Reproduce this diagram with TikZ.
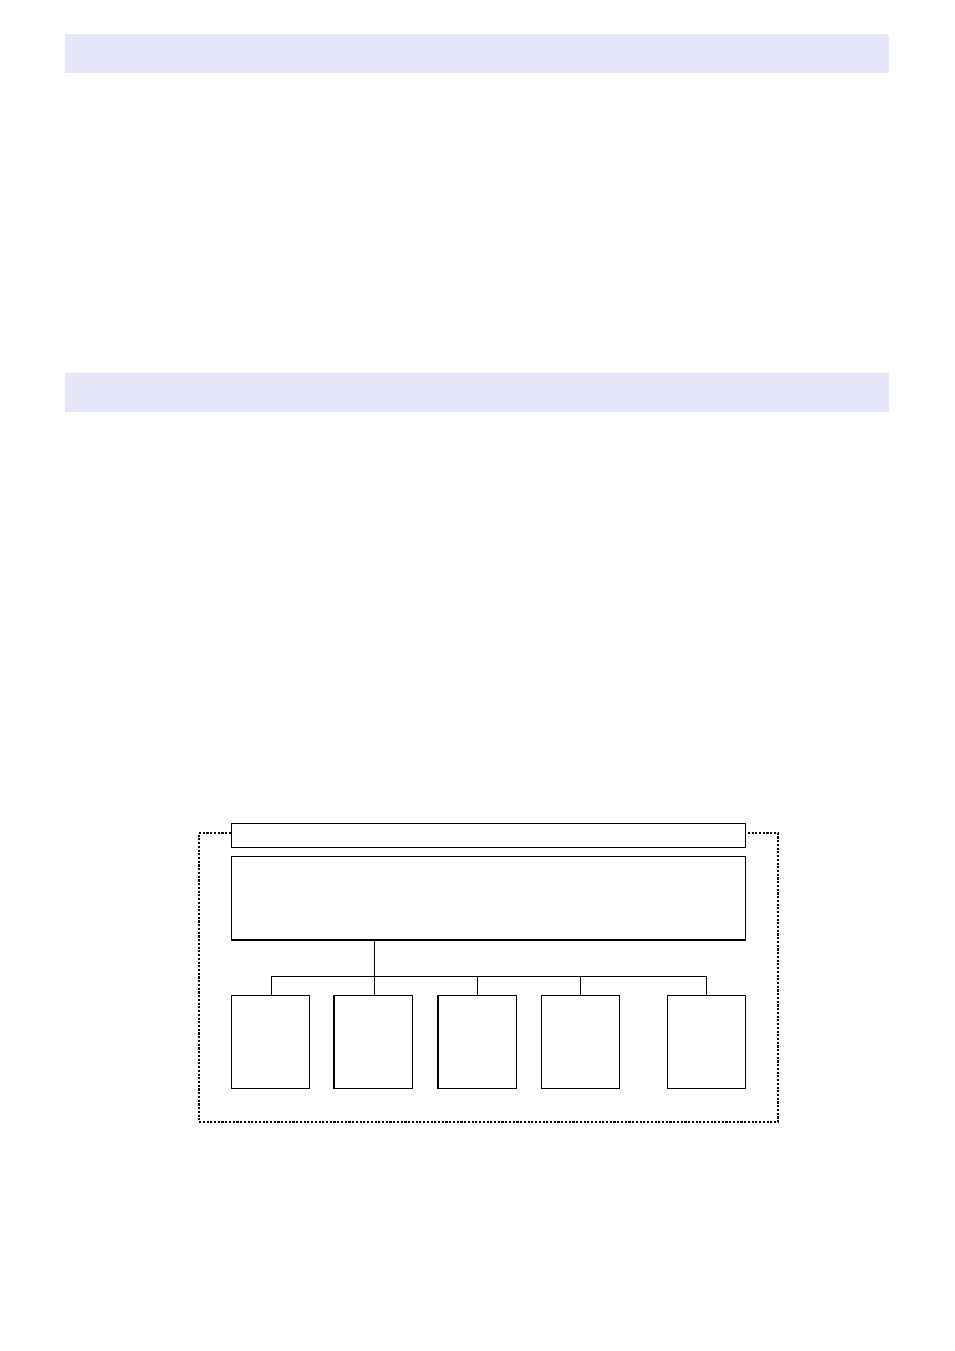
\documentclass[tikz,border=0pt]{standalone}
\definecolor{lav}{HTML}{E6E6FA}
\begin{document}
\begin{tikzpicture}[x=0.75pt,y=-0.75pt,
  band/.style={fill=lav,draw=none},
  box/.style={draw=black,line width=0.8pt,fill=white},
  link/.style={draw=black,line width=0.6pt},
  frame/.style={draw=black,line width=0.8pt,dash pattern=on 1.6pt off 1.2pt}]
\useasboundingbox (0,0) rectangle (954,1351);
\fill[band] (65,34) rectangle (889,73);
\fill[band] (65,373) rectangle (889,412);
% frame
\coordinate (fl) at (231,833);
\coordinate (fr) at (745,833);
\draw[frame] (fl) -- (199,833) -- (199,1122) -- (778,1122) -- (778,833) -- (fr);
% boxes
\node[box,minimum width=514*0.75pt,minimum height=24*0.75pt,inner sep=0pt,anchor=north west] (title) at (231,823) {};
\node[box,minimum width=514*0.75pt,minimum height=83*0.75pt,inner sep=0pt,anchor=north west] (main) at (231,856) {};
\draw[line width=1.5pt] (main.south west) -- (main.south east);
\coordinate (j) at (374,976);
\foreach \n/\l/\c in {a/231/271, b/334/374, c/438/477, d/541/580, e/667/706}{
  \node[box,minimum width=78*0.75pt,minimum height=93*0.75pt,inner sep=0pt,anchor=north west] (\n) at (\l,995) {};
  \coordinate (\n t) at (\c,976);
}
\draw[link] (main.south -| j) -- (j);
\draw[link] (at) -- (et);
\foreach \n in {a,b,c,d,e}{\draw[link] (\n t) -- (\n.north -| \n t);}
\draw[line width=1.4pt] (b.north west) -- (b.south west);
\draw[line width=1.4pt] (c.north west) -- (c.south west);
\end{tikzpicture}
\end{document}
